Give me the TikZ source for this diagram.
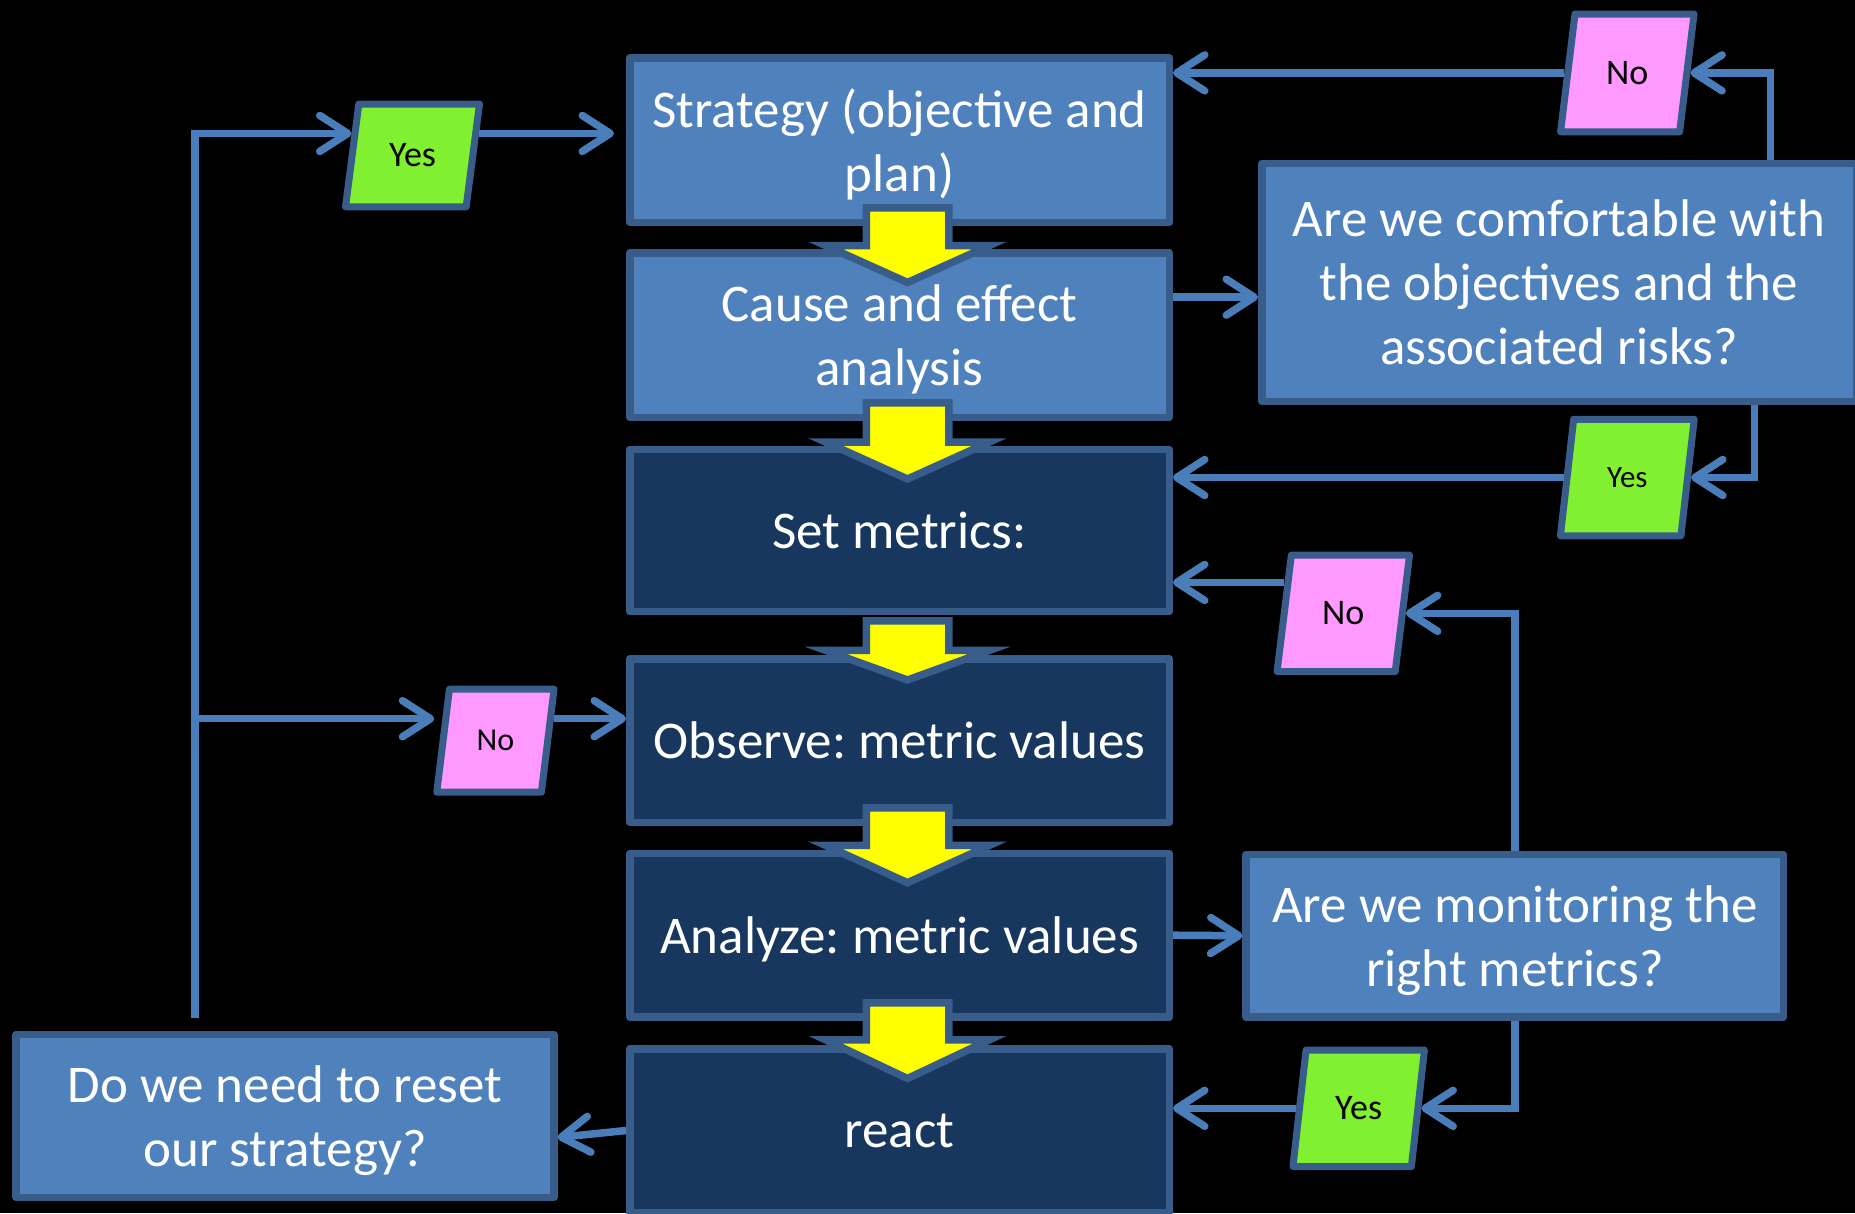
\documentclass[tikz,border=0pt]{standalone}
\usepackage{fontspec}
\setmainfont{Carlito}
\usetikzlibrary{arrows.meta,shapes.geometric,calc}
\definecolor{lblue}{HTML}{4F81BD}
\definecolor{dblue}{HTML}{17375E}
\definecolor{bord}{HTML}{385D8A}
\definecolor{cblue}{HTML}{4A7EBB}
\definecolor{ygreen}{HTML}{80F030}
\definecolor{ppink}{HTML}{FF99FF}
\definecolor{yyellow}{HTML}{FFFF00}
\frenchspacing
\begin{document}
\begin{tikzpicture}[x=1pt,y=-1pt,
  lbox/.style={draw=bord, fill=lblue, line width=7.5pt, text=white,
    font=\fontsize{53}{64}\selectfont, align=center, inner sep=0pt, line join=round,
    text depth=0pt},
  dbox/.style={lbox, fill=dblue},
  para/.style={trapezium, trapezium left angle=76, trapezium right angle=104,
    trapezium stretches=true, draw=bord, line width=7pt, inner sep=0pt,
    text=black, line join=round},
  yes/.style={para, fill=ygreen},
  no/.style={para, fill=ppink},
  conn/.style={draw=cblue, line width=7.5pt, -{Straight Barb[length=28pt,width=36pt,round]}},
  yarrow/.style={fill=yyellow, draw=bord, line width=7.5pt, line join=miter}
]
\useasboundingbox (0,0) rectangle (1855,1213);
\fill[black] (0,0) rectangle (1855,1213);

% main column
\node[lbox, minimum width=539.5pt, minimum height=164.5pt] (S) at (899.5,140) {Strategy (objective and\\plan)};
\node[lbox, minimum width=539.5pt, minimum height=164.5pt] (CA) at (899.5,335) {Cause and effect\\analysis};
\node[dbox, minimum width=539.5pt, minimum height=162.4pt] (SM) at (899.5,530.5) {Set metrics:};
\node[dbox, minimum width=539.5pt, minimum height=163.5pt] (O) at (899.5,740.5) {Observe: metric values};
\node[dbox, minimum width=539.5pt, minimum height=163.8pt] (AN) at (899.5,935.2) {Analyze: metric values};
\node[dbox, minimum width=539.5pt, minimum height=163.5pt] (RE) at (899.5,1130.5) {react};

% question boxes
\node[lbox, minimum width=594.5pt, minimum height=238pt] (C) at (1559,282.4) {Are we comfortable with\\the objectives and the\\associated risks?};
\node[lbox, minimum width=537.5pt, minimum height=162.7pt] (MO) at (1514.9,935.7) {Are we monitoring the\\right metrics?};
\node[lbox, minimum width=537.6pt, minimum height=162.9pt] (RS) at (285,1115.8) {Do we need to reset\\our strategy?};

% decisions
\node[yes, minimum width=134.5pt, minimum height=102.8pt, font=\fontsize{36}{40}\selectfont] (Y1) at (412.5,155.4) {Yes};
\node[no, minimum width=134pt, minimum height=117.8pt, font=\fontsize{36}{40}\selectfont] (N1) at (1627.3,72.9) {No};
\node[yes, minimum width=134pt, minimum height=116.5pt, font=\fontsize{31}{36}\selectfont] (Y2) at (1627.3,477.5) {Yes};
\node[no, minimum width=133pt, minimum height=116.4pt, font=\fontsize{36}{40}\selectfont] (N2) at (1343.3,613.3) {No};
\node[no, minimum width=117.8pt, minimum height=103pt, font=\fontsize{32}{36}\selectfont] (N3) at (495.4,740.7) {No};
\node[yes, minimum width=132pt, minimum height=116.4pt, font=\fontsize{36}{40}\selectfont] (Y3) at (1358.7,1108.3) {Yes};

% yellow block arrows
\foreach \t/\b/\p in {207.75/245.5/282.5, 402.75/442/479, 620.75/650.3/680, 807.75/845.4/882.7, 1002.75/1039.8/1078.5}
  \filldraw[yarrow] (866.25,\t) -- (948.75,\t) -- (948.75,\b) -- (989.5,\b) -- (907.5,\p) -- (825.5,\b) -- (866.25,\b) -- cycle;

% helper points on boxes and slanted sides
\coordinate (ctop) at ($(C.north west)!0.851!(C.north east)$);
\coordinate (cbot) at ($(C.south west)!0.825!(C.south east)$);
\coordinate (vx) at ($(RS.north west)!0.3347!(RS.north east)$);
\coordinate (y1l) at ($(Y1.top left corner)!0.3!(Y1.bottom left corner)$);
\coordinate (y1r) at ($(Y1.top right corner)!0.3!(Y1.bottom right corner)$);
\coordinate (n3l) at ($(N3.top left corner)!0.3!(N3.bottom left corner)$);
\coordinate (n3r) at ($(N3.top right corner)!0.3!(N3.bottom right corner)$);
\coordinate (n2l) at ($(N2.top left corner)!0.25!(N2.bottom left corner)$);
\coordinate (cal) at ($(CA.north east)!0.28!(CA.south east)$);

% connectors
\draw[conn] (ctop) |- (N1.east);
\draw[conn] (N1.west) -- (N1.west -| S.east);
\draw[conn] (cbot) |- (Y2.east);
\draw[conn] (Y2.west) -- (Y2.west -| SM.east);
\draw[conn] (cal) -- (cal -| C.west);
\draw[conn] (AN.east) -- (MO.west);
\draw[conn] (MO.north) |- (N2.east);
\draw[conn] (n2l) -- (n2l -| SM.east);
\draw[conn] (MO.south) |- (Y3.east);
\draw[conn] (Y3.west) -- (Y3.west -| RE.east);
\draw[conn] (RE.west) -- ($(RS.east)+(0,-21.7pt)$);
\draw[conn] ($(vx)+(0,12.6pt)$) |- (y1l);
\draw[conn, shorten >=12pt] (y1r) -- (y1r -| S.west);
\draw[conn, shorten >=8pt] (vx |- n3l) -- (n3l);
\draw[conn] (n3r) -- (n3r -| O.west);
\end{tikzpicture}
\end{document}
